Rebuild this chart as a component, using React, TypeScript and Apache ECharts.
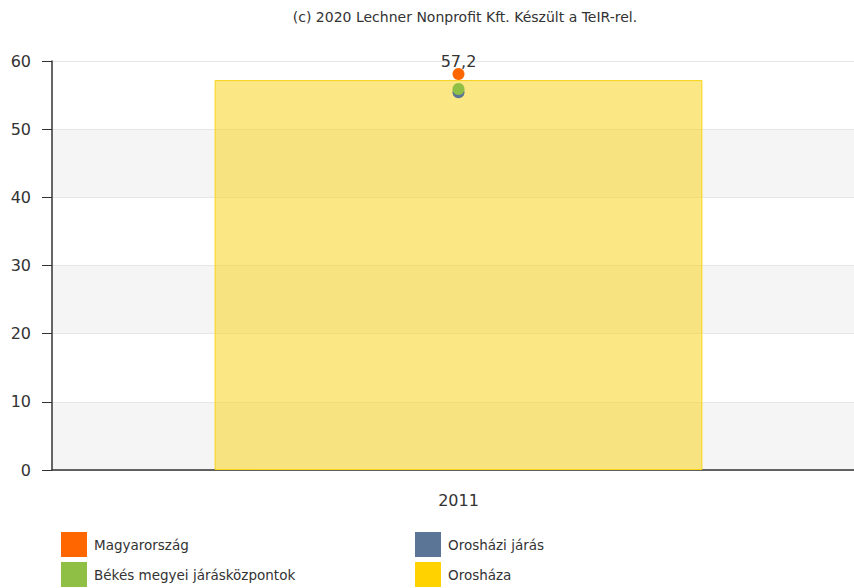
import React, { useEffect, useRef } from "react";
import * as echarts from "echarts";

const categories = ["2011"];
const oroshazaBar = [57.2];
const magyarorszag = [58.1];
const oroshaziJaras = [55.4];
const bekesJaraskozpontok = [55.9];
const yTicks = [0, 10, 20, 30, 40, 50, 60];

const FONT = "DejaVu Sans, Verdana, sans-serif";
const C_HU = "#ff6600";
const C_JARAS = "#5a7596";
const C_BEKES = "#8fbf45";
const C_OH = "#ffd200";

export default function App() {
  const ref = useRef<HTMLDivElement>(null);
  useEffect(() => {
    const chart = echarts.init(ref.current!, null, { renderer: "svg" });
    const legendCommon = {
      orient: "vertical",
      top: 532,
      padding: 0,
      itemWidth: 26,
      itemHeight: 25,
      itemGap: 5,
      icon: "rect",
      textStyle: { fontSize: 13.5, color: "#333", fontFamily: FONT, padding: [0, 0, 0, 2] },
    };
    chart.setOption({
      animation: false,
      textStyle: { fontFamily: FONT },
      title: {
        text: "(c) 2020 Lechner Nonprofit Kft. Készült a TeIR-rel.",
        left: 460,
        textAlign: "center",
        top: 5,
        textStyle: { fontSize: 14, fontWeight: "normal", color: "#333", fontFamily: FONT },
      },
      grid: { left: 52, right: 1, top: 61, bottom: 118 },
      xAxis: {
        type: "category",
        data: categories,
        axisLine: { lineStyle: { color: "#333", width: 1.5 } },
        axisTick: { alignWithLabel: true, length: 6, lineStyle: { color: "#333" } },
        axisLabel: { fontSize: 16, color: "#333", margin: 22, fontFamily: FONT },
      },
      yAxis: {
        type: "value",
        min: yTicks[0],
        max: yTicks[yTicks.length - 1],
        interval: 10,
        axisLine: { show: true, lineStyle: { color: "#333", width: 1.5 } },
        axisTick: { show: true, length: 10, lineStyle: { color: "#333" } },
        axisLabel: { fontSize: 16, color: "#333", margin: 21, fontFamily: FONT },
        splitLine: { show: true, lineStyle: { color: "#e6e6e6" } },
        splitArea: { show: true, areaStyle: { color: ["#f5f5f5", "#ffffff"] } },
      },
      legend: [
        {
          ...legendCommon,
          left: 61,
          data: [
            { name: "Magyarország", itemStyle: { color: C_HU, opacity: 1, borderWidth: 0 } },
            { name: "Békés megyei járásközpontok", itemStyle: { color: C_BEKES, opacity: 1, borderWidth: 0 } },
          ],
        },
        {
          ...legendCommon,
          left: 415,
          data: [
            { name: "Orosházi járás", itemStyle: { color: C_JARAS, opacity: 1, borderWidth: 0 } },
            { name: "Orosháza", itemStyle: { color: C_OH, opacity: 1, borderWidth: 0 } },
          ],
        },
      ],
      series: [
        {
          name: "Orosháza",
          type: "bar",
          data: oroshazaBar,
          barWidth: "60%",
          itemStyle: { color: "rgba(247,212,30,0.55)", borderColor: "#f8d41a", borderWidth: 1 },
          label: {
            show: true,
            position: "top",
            distance: 11,
            fontSize: 16,
            color: "#333",
            fontFamily: FONT,
            formatter: (p: any) => String(p.value).replace(".", ","),
          },
          z: 1,
        },
        {
          name: "Orosházi járás",
          type: "scatter",
          data: oroshaziJaras,
          symbolSize: 12,
          itemStyle: { color: C_JARAS, opacity: 1 },
          z: 3,
        },
        {
          name: "Békés megyei járásközpontok",
          type: "scatter",
          data: bekesJaraskozpontok,
          symbolSize: 12,
          itemStyle: { color: C_BEKES, opacity: 1 },
          z: 4,
        },
        {
          name: "Magyarország",
          type: "scatter",
          data: magyarorszag,
          symbolSize: 12,
          itemStyle: { color: C_HU, opacity: 1 },
          z: 5,
        },
      ],
    });
    return () => chart.dispose();
  }, []);
  return (
    <div style={{ width: 854, height: 588, position: "absolute", left: 0, top: 0, overflow: "hidden" }}>
      <div ref={ref} style={{ width: 866, height: 588 }} />
    </div>
  );
}
